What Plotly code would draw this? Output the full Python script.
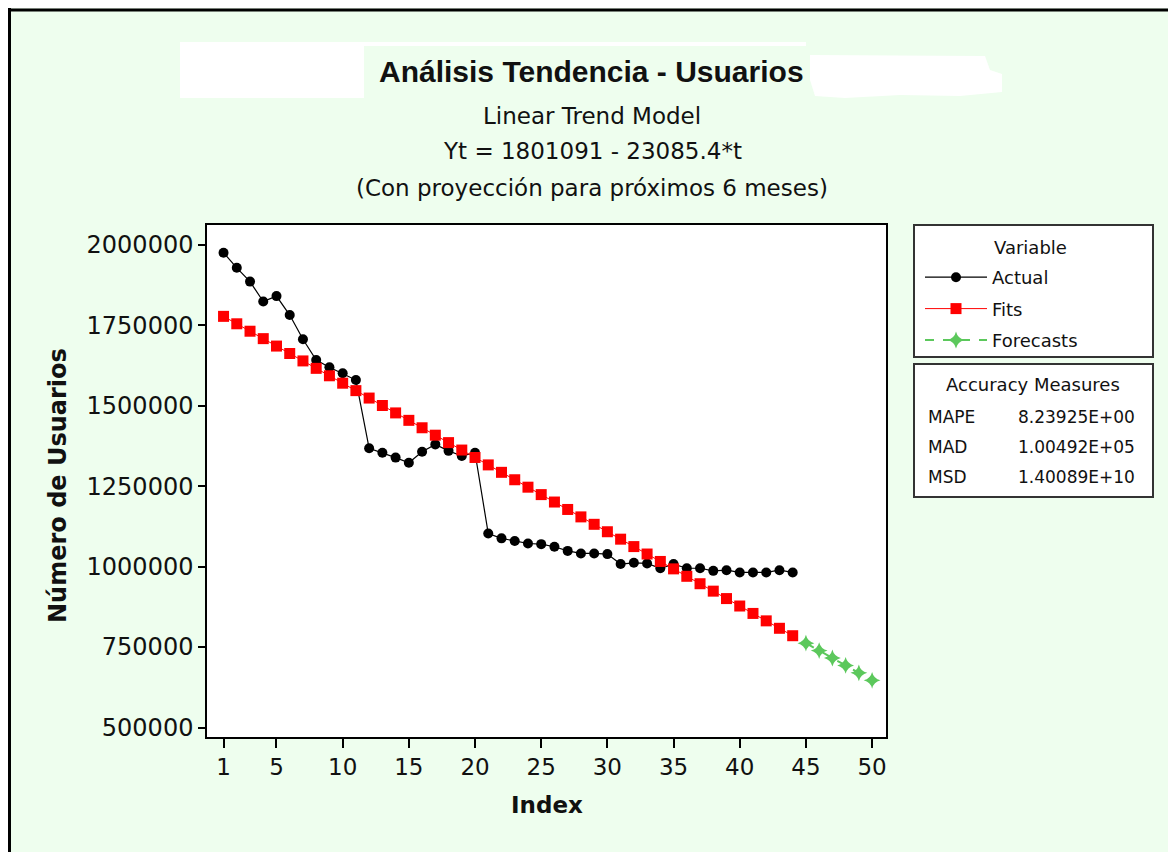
import plotly.graph_objects as go

# ---------------- data ----------------
index_actual = list(range(1, 45))
actual = [1976000, 1929000, 1886000, 1824000, 1841000, 1782000, 1707000, 1642000,
          1620000, 1601000, 1580000, 1368000, 1354000, 1339000, 1323000, 1357000,
          1380000, 1360000, 1344000, 1354000, 1103000, 1088000, 1080000, 1072000,
          1070000, 1062000, 1049000, 1041000, 1041000, 1039000, 1008000, 1012000,
          1010000, 995000, 1008000, 995000, 995000, 987000, 989000, 982000,
          982000, 982000, 989000, 982000]
fits = [1778006, 1754920, 1731835, 1708749, 1685664, 1662579, 1639493, 1616408,
        1593322, 1570237, 1547152, 1524066, 1500981, 1477895, 1454810, 1431725,
        1408639, 1385554, 1362468, 1339383, 1316298, 1293212, 1270127, 1247041,
        1223956, 1200871, 1177785, 1154700, 1131614, 1108529, 1085444, 1062358,
        1039273, 1016187, 993102, 970017, 946931, 923846, 900760, 877675,
        854590, 831504, 808419, 785333]
index_forecast = [45, 46, 47, 48, 49, 50]
forecasts = [762248, 739162, 716077, 692992, 669906, 646821]

x_ticks = [1, 5, 10, 15, 20, 25, 30, 35, 40, 45, 50]
y_ticks = [500000, 750000, 1000000, 1250000, 1500000, 1750000, 2000000]
accuracy_names = ["MAPE", "MAD", "MSD"]
accuracy_values = ["8.23925E+00", "1.00492E+05", "1.40089E+10"]

# ---------------- layout geometry (page pixels; page has an 8px body margin) ----------------
OFF = 8
W, H = 1176 - OFF, 852 - OFF
PL, PR, PT, PB = 207, 886, 225, 737
PW, PH = PR - PL, PB - PT


def px(x):
    return (x - PL) / PW


def py(y):
    return (PB - y) / PH


BG = "#EEFEEE"
GREEN = "#5CC85C"
FONT = "DejaVu Sans"
TXT = "#111111"

fig = go.Figure()
fig.add_trace(go.Scatter(
    x=index_actual, y=actual, name="Actual", mode="lines+markers",
    line=dict(color="black", width=1.2),
    marker=dict(symbol="circle", size=10, color="black"), legendgroup="a"))
fig.add_trace(go.Scatter(
    x=index_actual, y=fits, name="Fits", mode="lines+markers",
    line=dict(color="#FF0000", width=1),
    marker=dict(symbol="square", size=11, color="#FF0000"), legendgroup="b"))
fig.add_trace(go.Scatter(
    x=index_forecast, y=forecasts, name="Forecasts", mode="lines+markers",
    line=dict(color=GREEN, width=2, dash="dash"),
    marker=dict(symbol="star-diamond", size=12, color=GREEN), legendgroup="c"))

shapes = []
# outer frame lines (left and top edges of the figure)
shapes.append(dict(type="line", xref="paper", yref="paper", x0=px(OFF + 1.5), x1=px(OFF + 1.5),
                   y0=py(OFF), y1=py(H + OFF + 5), line=dict(color="black", width=3)))
shapes.append(dict(type="line", xref="paper", yref="paper", x0=px(OFF), x1=px(W + OFF + 5),
                   y0=py(OFF + 2), y1=py(OFF + 2), line=dict(color="black", width=3)))
# white patches around title
shapes.append(dict(type="rect", xref="paper", yref="paper", x0=px(180), x1=px(364),
                   y0=py(42), y1=py(98), fillcolor="white", line=dict(width=0)))
shapes.append(dict(type="rect", xref="paper", yref="paper", x0=px(364), x1=px(806),
                   y0=py(42), y1=py(46), fillcolor="white", line=dict(width=0)))
blob = [(810, 55), (985, 56), (990, 70), (1002, 74), (1002, 92), (960, 96),
        (900, 95), (845, 98), (815, 96), (810, 80)]
path = "M " + " L ".join(f"{px(a)},{py(b)}" for a, b in blob) + " Z"
shapes.append(dict(type="path", xref="paper", yref="paper", path=path,
                   fillcolor="white", line=dict(width=0)))
# legend box and accuracy box
shapes.append(dict(type="rect", xref="paper", yref="paper", x0=px(914), x1=px(1153),
                   y0=py(225), y1=py(357), fillcolor="white",
                   line=dict(color="#333333", width=2), layer="below"))
shapes.append(dict(type="rect", xref="paper", yref="paper", x0=px(914), x1=px(1153),
                   y0=py(364), y1=py(497), fillcolor="white",
                   line=dict(color="#333333", width=2), layer="below"))

ann = []


def text(x, y, s, size, bold=False, xanchor="center", family=FONT, color=TXT, angle=0):
    ann.append(dict(xref="paper", yref="paper", x=px(x), y=py(y),
                    text=f"<b>{s}</b>" if bold else s, showarrow=False,
                    xanchor=xanchor, yanchor="middle", textangle=angle,
                    font=dict(family=family, size=size, color=color)))


text(591, 71, "Análisis Tendencia - Usuarios", 30, bold=True, family="Liberation Sans")
text(592, 116, "Linear Trend Model", 23)
text(592, 151, "Yt = 1801091 - 23085.4*t", 23)
text(592, 188, "(Con proyección para próximos 6 meses)", 23)
text(547, 805, "Index", 23, bold=True)
text(58, 486, "Número de Usuarios", 24, bold=True, angle=-90)
text(1031, 247, "Variable", 18)
text(1033, 384, "Accuracy Measures", 18)
for i, (n, v) in enumerate(zip(accuracy_names, accuracy_values)):
    yy = 417 + 30 * i
    text(926, yy, n, 17, xanchor="left")
    text(1137, yy, v, 17, xanchor="right")

fig.update_layout(
    width=W, height=H,
    margin=dict(l=PL - OFF, r=W + OFF - PR, t=PT - OFF, b=H + OFF - PB, pad=0),
    paper_bgcolor=BG, plot_bgcolor="white",
    shapes=shapes, annotations=ann,
    font=dict(family=FONT, color=TXT),
    showlegend=True,
    legend=dict(x=px(920), y=py(259), xanchor="left", yanchor="top",
                bgcolor="rgba(0,0,0,0)", borderwidth=0,
                font=dict(family=FONT, size=18, color=TXT),
                tracegroupgap=5, itemwidth=62),
)
fig.update_xaxes(range=[-0.25, 51.05], tickvals=x_ticks, ticks="outside", ticklen=9,
                 tickwidth=1.5, tickcolor="black", showline=True, linecolor="black",
                 linewidth=1.5, mirror=True, showgrid=False, zeroline=False,
                 tickfont=dict(family=FONT, size=23, color=TXT))
fig.update_yaxes(range=[470500, 2062000], tickvals=y_ticks,
                 ticktext=[str(v) for v in y_ticks], ticks="outside", ticklen=7,
                 tickwidth=1.5, tickcolor="black", showline=True, linecolor="black",
                 linewidth=1.5, mirror=True, showgrid=False, zeroline=False,
                 tickfont=dict(family=FONT, size=24, color=TXT))

fig.write_html("out.html")
